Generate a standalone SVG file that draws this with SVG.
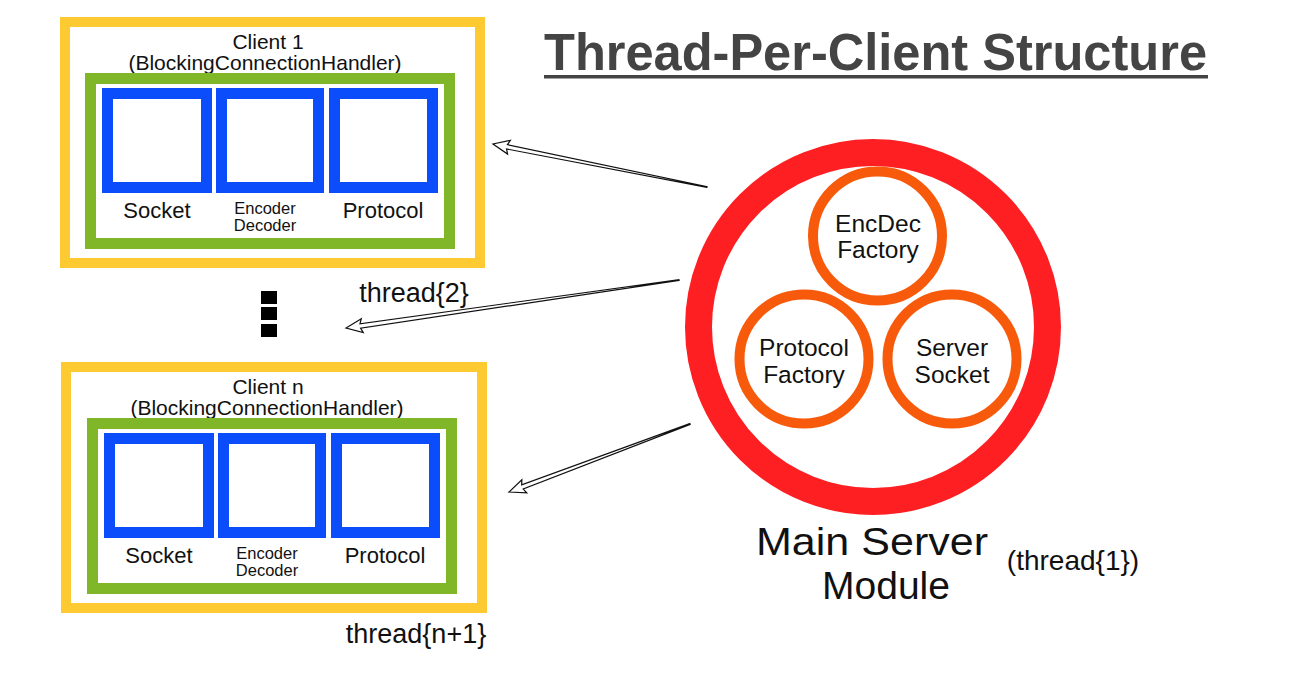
<svg xmlns="http://www.w3.org/2000/svg" width="1311" height="682" viewBox="0 0 1311 682">
<style>
  .yel{fill:none;stroke:#fdcb31;stroke-width:10}
  .grn{fill:none;stroke:#7fb729;stroke-width:11}
  .blu{fill:none;stroke:#0b4dfa;stroke-width:11}
  .t{font-family:"Liberation Sans",Arial,sans-serif;fill:#111;text-anchor:middle}
  .ttl{font-size:21px}
  .lbl{font-size:22px}
  .sm{font-size:16.5px}
  .thr{font-size:27px}
  .inn{fill:none;stroke:#f85a0c;stroke-width:10}
  .arr{fill:#fff;stroke:#111;stroke-width:1.2;stroke-linejoin:miter}
</style>
<defs>
  <g id="client-body">
    <rect class="grn" x="90.5" y="78.5" width="359" height="165"/>
    <rect class="blu" x="107.5" y="93.5" width="99" height="94"/>
    <rect class="blu" x="221.5" y="93.5" width="97" height="94"/>
    <rect class="blu" x="334.5" y="93.5" width="98" height="94"/>
    <text class="t lbl" x="157" y="218">Socket</text>
    <text class="t sm" x="265" y="214">Encoder</text>
    <text class="t sm" x="265" y="231">Decoder</text>
    <text class="t lbl" x="383" y="218">Protocol</text>
  </g>
</defs>
<rect width="1311" height="682" fill="#fff"/>

<g id="title">
  <text x="544" y="70" font-family="'Liberation Sans',Arial,sans-serif" font-weight="bold" font-size="52" fill="#444" textLength="663" lengthAdjust="spacingAndGlyphs">Thread-Per-Client Structure</text>
  <rect x="544" y="75" width="664" height="3.5" fill="#444"/>
</g>

<g id="client1">
  <rect class="yel" x="65" y="22" width="415" height="241"/>
  <text class="t ttl" x="268" y="49">Client 1</text>
  <text class="t ttl" x="265" y="70">(BlockingConnectionHandler)</text>
  <use href="#client-body"/>
</g>
<text id="thread2" class="t thr" x="414" y="302">thread{2}</text>

<g id="ellipsis" fill="#000">
  <rect x="261" y="291" width="16" height="13"/>
  <rect x="261" y="307" width="16" height="13"/>
  <rect x="261" y="324" width="16" height="13"/>
</g>

<g id="clientn">
  <rect class="yel" x="66" y="367" width="416" height="241"/>
  <text class="t ttl" x="268" y="394">Client n</text>
  <text class="t ttl" x="267" y="415">(BlockingConnectionHandler)</text>
  <use href="#client-body" transform="translate(2,345)"/>
</g>
<text id="threadn1" class="t thr" x="416" y="643">thread{n+1}</text>

<g id="main-server">
  <circle cx="873" cy="327" r="174.5" fill="none" stroke="#fd1f22" stroke-width="27"/>
  <g id="encdec">
    <circle class="inn" cx="877.5" cy="236" r="64.5"/>
    <text class="t" font-size="24.5" x="878" y="232">EncDec</text>
    <text class="t" font-size="24.5" x="878" y="258">Factory</text>
  </g>
  <g id="protocol-factory">
    <circle class="inn" cx="804" cy="359" r="64.5"/>
    <text class="t" font-size="24.5" x="804" y="356">Protocol</text>
    <text class="t" font-size="24.5" x="804" y="383">Factory</text>
  </g>
  <g id="server-socket">
    <circle class="inn" cx="952" cy="359" r="64.5"/>
    <text class="t" font-size="24.5" x="952" y="356">Server</text>
    <text class="t" font-size="24.5" x="952" y="383">Socket</text>
  </g>
  <text class="t" font-size="39" x="872" y="555" textLength="232" lengthAdjust="spacingAndGlyphs">Main Server</text>
  <text class="t" font-size="39" x="886" y="599" textLength="128" lengthAdjust="spacingAndGlyphs">Module</text>
  <text class="t" font-size="28" x="1073" y="570">(thread{1})</text>
</g>

<g id="connectors">
  <polygon class="arr" transform="translate(707,187) rotate(191.36)" points="0,-0.4 204,-2.2 202,-7 218.3,0 202,7 204,2.2 0,0.4"/>
  <polygon class="arr" transform="translate(679,280) rotate(171.8)" points="0,-0.4 322,-2.2 320,-7 336.4,0 320,7 322,2.2 0,0.4"/>
  <polygon class="arr" transform="translate(690,424) rotate(159.4)" points="0,-0.4 179,-2.2 177,-7 193.4,0 177,7 179,2.2 0,0.4"/>
</g>
</svg>
